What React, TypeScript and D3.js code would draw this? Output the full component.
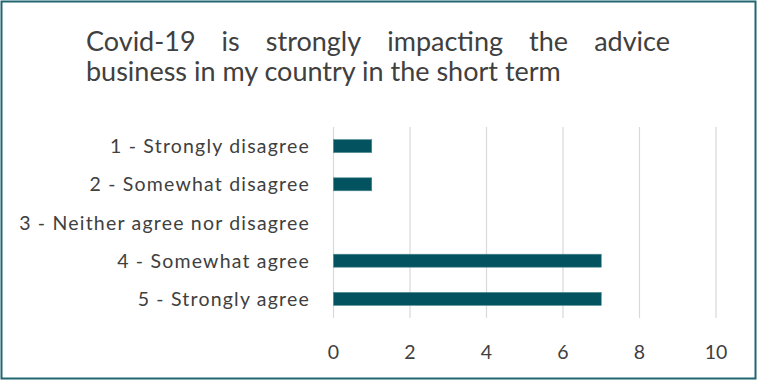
import React from "react";
import * as d3 from "d3";

const categories = [
  "1 - Strongly disagree",
  "2 - Somewhat disagree",
  "3 - Neither agree nor disagree",
  "4 - Somewhat agree",
  "5 - Strongly agree",
];
const values = [1, 1, 0, 7, 7];
const xTicks = [0, 2, 4, 6, 8, 10];
const titleLine1 = ["Covid-19", "is", "strongly", "impacting", "the", "advice"];
const titleLine2 = "business in my country in the short term";

const W = 757;
const H = 380;
const FONT = "Lato, 'Open Sans', 'Liberation Sans', sans-serif";
const TEXT = "#404040";
const BAR = "#02535f";

export default function App() {
  const x = d3.scaleLinear().domain([0, 10]).range([333.5, 716]);
  const y = d3.scaleBand<string>().domain(categories).range([127, 318]).paddingInner(0.66).paddingOuter(0.33);

  const t1Left = 86;
  const t1Right = 670;
  const ctx = typeof document !== "undefined" ? document.createElement("canvas").getContext("2d") : null;
  const titleSize = 27;
  let widths = titleLine1.map((w) => w.length * 12);
  if (ctx) {
    ctx.font = `${titleSize}px Lato`;
    widths = titleLine1.map((w) => ctx.measureText(w).width);
  }
  const total = widths.reduce((a, b) => a + b, 0);
  const gap = (t1Right - t1Left - total) / (titleLine1.length - 1);
  const xs: number[] = [];
  let cur = t1Left;
  widths.forEach((w) => {
    xs.push(cur);
    cur += w + gap;
  });

  return (
    <svg width={W} height={H} style={{ position: "absolute", left: 0, top: 0, background: "#fff" }}>
      <rect x={1.5} y={1.5} width={W - 3} height={H - 3} fill="#fff" stroke="#1f6670" strokeWidth={2} />
      {titleLine1.map((w, i) => (
        <text key={w} x={xs[i]} y={51} fontFamily={FONT} fontSize={titleSize} fill={TEXT}>
          {w}
        </text>
      ))}
      <text x={86} y={81} fontFamily={FONT} fontSize={titleSize} fill={TEXT}>
        {titleLine2}
      </text>
      {xTicks.map((t) => (
        <g key={t}>
          <line x1={x(t)} x2={x(t)} y1={127} y2={318} stroke="#d9d9d9" strokeWidth={1.2} />
          <text x={x(t)} y={359} textAnchor="middle" fontFamily={FONT} fontSize={19.5} fill={TEXT}>
            {t}
          </text>
        </g>
      ))}
      {categories.map((c, i) => (
        <g key={c}>
          <text
            x={310}
            y={(y(c) as number) + y.bandwidth() / 2}
            dy="0.36em"
            textAnchor="end"
            fontFamily={FONT}
            fontSize={19.5}
            letterSpacing={1.2}
            fill={TEXT}
          >
            {c}
          </text>
          {values[i] > 0 && (
            <rect
              x={x(0)}
              y={y(c) as number}
              width={x(values[i]) - x(0)}
              height={y.bandwidth()}
              fill={BAR}
              stroke="#4f8a93"
              strokeWidth={0.6}
            />
          )}
        </g>
      ))}
    </svg>
  );
}
